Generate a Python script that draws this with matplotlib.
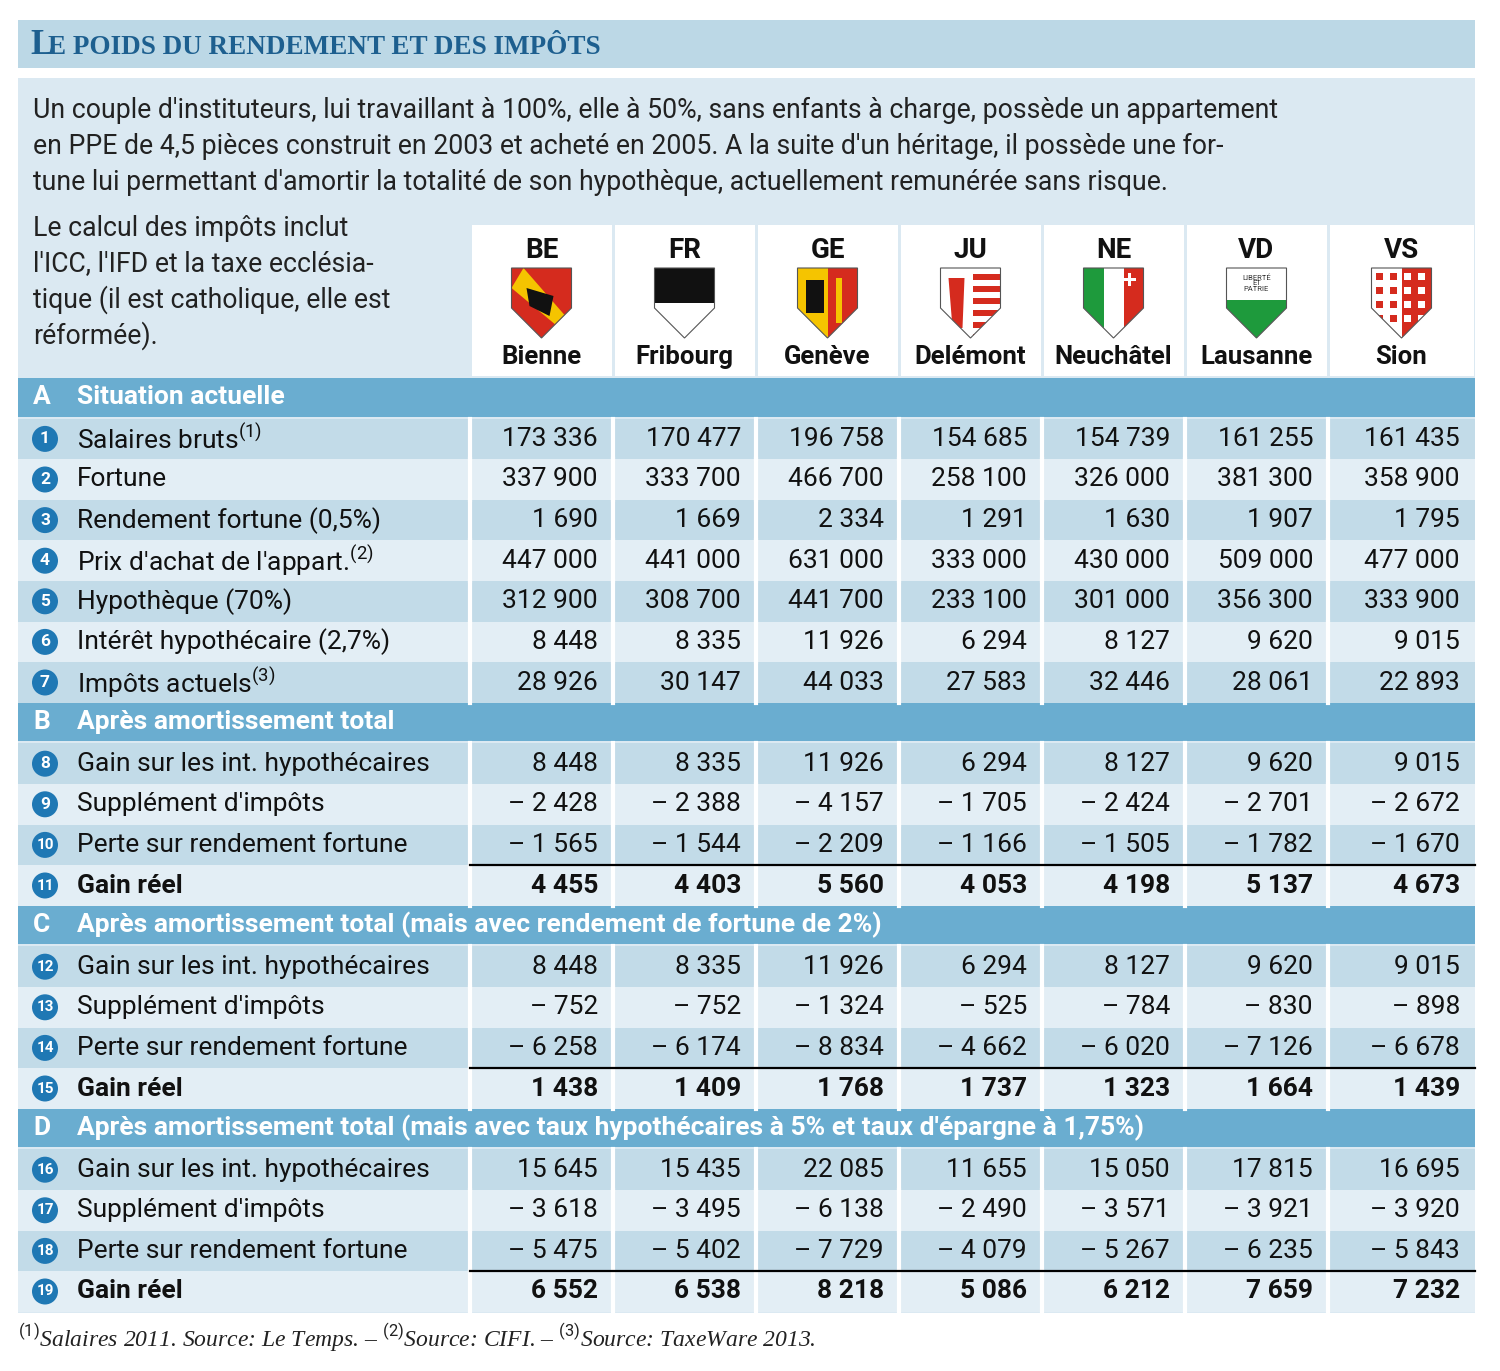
import matplotlib
matplotlib.use("Agg")
import matplotlib.pyplot as plt
from matplotlib.patches import Rectangle, Polygon, Circle

plt.rcParams['font.family'] = ['Roboto', 'DejaVu Sans']
plt.rcParams['mathtext.fontset'] = 'custom'
plt.rcParams['mathtext.rm'] = 'Roboto'

cantons = ["BE", "FR", "GE", "JU", "NE", "VD", "VS"]
cities = ["Bienne", "Fribourg", "Genève", "Delémont", "Neuchâtel", "Lausanne", "Sion"]

sections = [
    ("A", "Situation actuelle"),
    ("B", "Après amortissement total"),
    ("C", "Après amortissement total (mais avec rendement de fortune de 2%)"),
    ("D", "Après amortissement total (mais avec taux hypothécaires à 5% et taux d'épargne à 1,75%)"),
]
labels_A = ["Salaires bruts$^{(1)}$", "Fortune", "Rendement fortune (0,5%)",
            "Prix d'achat de l'appart.$^{(2)}$", "Hypothèque (70%)",
            "Intérêt hypothécaire (2,7%)", "Impôts actuels$^{(3)}$"]
labels_gain = ["Gain sur les int. hypothécaires", "Supplément d'impôts",
               "Perte sur rendement fortune", "Gain réel"]

vals_A = [
    [173336, 170477, 196758, 154685, 154739, 161255, 161435],
    [337900, 333700, 466700, 258100, 326000, 381300, 358900],
    [1690, 1669, 2334, 1291, 1630, 1907, 1795],
    [447000, 441000, 631000, 333000, 430000, 509000, 477000],
    [312900, 308700, 441700, 233100, 301000, 356300, 333900],
    [8448, 8335, 11926, 6294, 8127, 9620, 9015],
    [28926, 30147, 44033, 27583, 32446, 28061, 22893],
]
vals_B = [
    [8448, 8335, 11926, 6294, 8127, 9620, 9015],
    [-2428, -2388, -4157, -1705, -2424, -2701, -2672],
    [-1565, -1544, -2209, -1166, -1505, -1782, -1670],
    [4455, 4403, 5560, 4053, 4198, 5137, 4673],
]
vals_C = [
    [8448, 8335, 11926, 6294, 8127, 9620, 9015],
    [-752, -752, -1324, -525, -784, -830, -898],
    [-6258, -6174, -8834, -4662, -6020, -7126, -6678],
    [1438, 1409, 1768, 1737, 1323, 1664, 1439],
]
vals_D = [
    [15645, 15435, 22085, 11655, 15050, 17815, 16695],
    [-3618, -3495, -6138, -2490, -3571, -3921, -3920],
    [-5475, -5402, -7729, -4079, -5267, -6235, -5843],
    [6552, 6538, 8218, 5086, 6212, 7659, 7232],
]

def fmt(v):
    s = f"{abs(v):,}".replace(",", " ")
    return ("– " + s) if v < 0 else s

W, H = 1500, 1371
fig = plt.figure(figsize=(15, 13.71), dpi=100)
ax = fig.add_axes([0, 0, 1, 1])
ax.set_xlim(0, W); ax.set_ylim(H, 0); ax.axis('off')

DARK = "#1d5f8f"
BAND = "#6aadd0"
SH1 = "#c2dbe8"
SH2 = "#e3eef5"
PANEL = "#dbe9f2"
CIRC = "#1f78b4"

# title bar
ax.add_patch(Rectangle((18, 20), 1457, 48, color="#bcd8e6", lw=0))
x = 30
ax.text(x, 46, "L", fontsize=25, family="Liberation Serif", weight="bold", color=DARK, va="center")
ax.text(x + 18, 47, "E POIDS DU RENDEMENT ET DES IMPÔTS", fontsize=19.5, family="Liberation Serif",
        weight="bold", color=DARK, va="center")

# panel
ax.add_patch(Rectangle((18, 78), 1457, 1235, color=PANEL, lw=0))
intro = ["Un couple d'instituteurs, lui travaillant à 100%, elle à 50%, sans enfants à charge, possède un appartement",
         "en PPE de 4,5 pièces construit en 2003 et acheté en 2005. A la suite d'un héritage, il possède une for-",
         "tune lui permettant d'amortir la totalité de son hypothèque, actuellement remunérée sans risque."]
for i, t in enumerate(intro):
    ax.text(33, 110 + 36 * i, t, fontsize=19.2, va="center", color="#222222")
side = ["Le calcul des impôts inclut", "l'ICC, l'IFD et la taxe ecclésia-",
        "tique (il est catholique, elle est", "réformée)."]
for i, t in enumerate(side):
    ax.text(33, 228 + 36 * i, t, fontsize=19.2, va="center", color="#222222")

xb = [470, 613, 756, 899, 1042, 1185, 1328, 1475]
cx = [(xb[i] + xb[i + 1]) / 2 for i in range(7)]

# header cells
for i in range(7):
    ax.add_patch(Rectangle((xb[i] + 1.5, 225), xb[i + 1] - xb[i] - 3, 151, color="white", lw=0))
    ax.text(cx[i], 251, cantons[i], fontsize=20, weight="bold", ha="center", va="center", color="#111111")
    ax.text(cx[i], 357, cities[i], fontsize=18.5, weight="bold", ha="center", va="center", color="#111111")

def shield(i, parts):
    c = cx[i]; top = 268; bot = 338; w = 30
    outline = [(c - w, top), (c + w, top), (c + w, top + 40), (c, bot), (c - w, top + 40)]
    for poly, col in parts(c, top, bot, w):
        p = Polygon(poly, closed=True, color=col, lw=0)
        ax.add_patch(p)
        p.set_clip_path(Polygon(outline, closed=True, transform=ax.transData))
    ax.add_patch(Polygon(outline, closed=True, fill=False, ec="#555555", lw=0.8))

def rect(x0, y0, x1, y1):
    return [(x0, y0), (x1, y0), (x1, y1), (x0, y1)]

shield(0, lambda c, t, b, w: [(rect(c - w, t, c + w, b), "#d52b1e"),
                              ([(c - w, t + 20), (c - w + 12, t), (c + w, t + 55), (c + w, b)], "#f5c400"),
                              ([(c - 15, t + 20), (c + 12, t + 28), (c + 8, t + 48), (c - 12, t + 38)], "#111111")])
shield(1, lambda c, t, b, w: [(rect(c - w, t, c + w, t + 35), "#111111"), (rect(c - w, t + 35, c + w, b), "white")])
shield(2, lambda c, t, b, w: [(rect(c - w, t, c, b), "#f5c400"), (rect(c, t, c + w, b), "#d52b1e"),
                              (rect(c - 22, t + 12, c - 4, t + 45), "#111111"), (rect(c + 8, t + 10, c + 14, t + 55), "#f5c400")])
shield(3, lambda c, t, b, w: [(rect(c - w, t, c + w, b), "white")] +
       [(rect(c + 2, t + 6 + 12 * k, c + w, t + 12 + 12 * k), "#d52b1e") for k in range(6)] +
       [([(c - 22, t + 10), (c - 6, t + 10), (c - 8, t + 60), (c - 18, t + 60)], "#d52b1e")])
shield(4, lambda c, t, b, w: [(rect(c - w, t, c - w / 3, b), "#1e9a3c"), (rect(c - w / 3, t, c + w / 3, b), "white"),
                              (rect(c + w / 3, t, c + w, b), "#d52b1e"), (rect(c + 14, t + 5, c + 17, t + 18), "white"),
                              (rect(c + 9, t + 10, c + 22, t + 13), "white")])
shield(5, lambda c, t, b, w: [(rect(c - w, t, c + w, t + 32), "white"), (rect(c - w, t + 32, c + w, b), "#1e9a3c")])
shield(6, lambda c, t, b, w: [(rect(c - w, t, c, b), "white"), (rect(c, t, c + w, b), "#d52b1e")] +
       [(rect(c - w + 4 + 14 * (k % 4), t + 5 + 14 * (k // 4), c - w + 11 + 14 * (k % 4), t + 12 + 14 * (k // 4)),
         "#d52b1e" if (k % 4) < 2 else "white") for k in range(16)])
ax.text(cx[5], 283, "LIBERTÉ\nET\nPATRIE", fontsize=5.5, ha="center", va="center", color="#333333", linespacing=0.9)

# rows
pitch = 40.6
y = 378
rownum = 1
blocks = [(sections[0], labels_A, vals_A), (sections[1], labels_gain, vals_B),
          (sections[2], labels_gain, vals_C), (sections[3], labels_gain, vals_D)]
for (letter, title), labels, vals in blocks:
    ax.add_patch(Rectangle((18, y), 1457, pitch - 2, color=BAND, lw=0))
    ax.text(33, y + pitch / 2 - 1, letter, fontsize=19, weight="bold", color="white", va="center")
    ax.text(77, y + pitch / 2 - 1, title, fontsize=19, weight="bold", color="white", va="center")
    y += pitch
    for j, (lab, row) in enumerate(zip(labels, vals)):
        col = SH1 if j % 2 == 0 else SH2
        ax.add_patch(Rectangle((18, y), 1457, pitch, color=col, lw=0))
        for k in range(1, 8):
            ax.plot([xb[k - 1] + 0.0, xb[k - 1]], [y, y + pitch], color="white", lw=3)
        yc = y + pitch / 2
        bold = lab == "Gain réel"
        if bold:
            ax.plot([470, 1475], [y, y], color="black", lw=1.6)
        ax.add_patch(Circle((45, yc), 13, color=CIRC, lw=0))
        ax.text(45, yc, str(rownum), fontsize=12.5 if rownum < 10 else 11, weight="bold", color="white",
                ha="center", va="center")
        ax.text(77, yc, lab, fontsize=19, va="center", color="#111111", weight="bold" if bold else "normal")
        for i, v in enumerate(row):
            ax.text(xb[i + 1] - 15, yc, fmt(v), fontsize=19, ha="right", va="center", color="#111111",
                    weight="bold" if bold else "normal")
        rownum += 1
        y += pitch

ax.text(18, 1338, "$^{(1)}$Salaires 2011. Source: Le Temps. – $^{(2)}$Source: CIFI. – $^{(3)}$Source: TaxeWare 2013.",
        fontsize=17, family="Liberation Serif", style="italic", va="center", color="#222222")

fig.savefig("out.png", dpi=100)
